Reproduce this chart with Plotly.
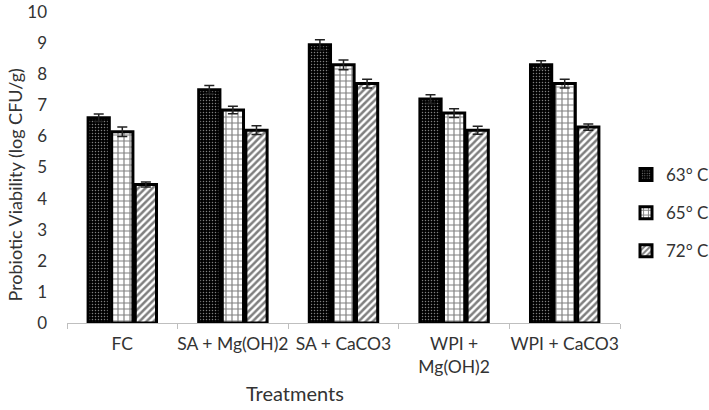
import plotly.graph_objects as go

categories = ["FC", "SA + Mg(OH)2", "SA + CaCO3", "WPI + Mg(OH)2", "WPI + CaCO3"]
tick_labels = ["FC", "SA + Mg(OH)2", "SA + CaCO3", "WPI +<br>Mg(OH)2", "WPI + CaCO3"]
series_names = ["63° C", "65° C", "72° C"]
v63 = [6.6, 7.5, 8.95, 7.2, 8.3]
v65 = [6.15, 6.85, 8.3, 6.75, 7.7]
v72 = [4.45, 6.2, 7.7, 6.2, 6.3]
e63 = [0.12, 0.14, 0.16, 0.14, 0.13]
e65 = [0.15, 0.12, 0.16, 0.14, 0.14]
e72 = [0.08, 0.14, 0.14, 0.13, 0.1]

patterns = [
    dict(shape=".", bgcolor="black", fgcolor="white", size=3, solidity=0.2),
    dict(shape="+", bgcolor="white", fgcolor="black", size=6, solidity=0.35),
    dict(shape="/", bgcolor="white", fgcolor="black", size=5, solidity=0.5),
]

FONT = "Lato, Open Sans, sans-serif"
TXT = "#333333"
L, R, T, B = 67, 89, 12, 87
W, H = 709, 410
pw = W - L - R
ph = H - T - B

fig = go.Figure()
for i, (name, vals, errs) in enumerate(zip(series_names, [v63, v65, v72], [e63, e65, e72])):
    fig.add_trace(go.Bar(
        x=categories, y=vals, name=name, legendgroup=name,
        marker=dict(color="white", line=dict(color="black", width=3), pattern=patterns[i]),
        error_y=dict(type="data", array=errs, visible=True, color="#222", thickness=1.5, width=5),
    ))

fig.update_layout(
    width=W, height=H,
    margin=dict(l=L, r=R, t=T, b=B),
    plot_bgcolor="white", paper_bgcolor="white",
    barmode="group", bargap=0.36, bargroupgap=0.1,
    font=dict(family=FONT, size=17, color=TXT),
    legend=dict(xref="container", yref="container", x=626 / W, xanchor="left",
                y=1 - 213 / H, yanchor="middle",
                font=dict(size=17), traceorder="grouped", tracegroupgap=13,
                itemwidth=30),
    showlegend=True,
    annotations=[
        dict(text="Treatments", x=(295 - L) / pw, xref="paper", y=(H - B - 393) / ph, yref="paper",
             xanchor="center", yanchor="middle", showarrow=False, font=dict(size=20, color=TXT)),
        dict(text="Probiotic Viability (log CFU/g)", x=0, xref="paper", y=0.5, yref="paper",
             xanchor="center", yanchor="middle", xshift=-53, yshift=-18, textangle=-90,
             showarrow=False, font=dict(size=18, color=TXT)),
    ],
)

fig.update_xaxes(
    tickmode="array", tickvals=categories, ticktext=tick_labels, tickangle=0,
    showline=True, linecolor="#bfbfbf", linewidth=1,
    ticks="outside", tickson="boundaries", ticklen=5, tickcolor="#bfbfbf",
    tickfont=dict(size=17.5), automargin=False, ticklabelstandoff=5,
)
fig.update_yaxes(
    range=[0, 10], dtick=1, showgrid=False, zeroline=False, showline=False,
    tickfont=dict(size=17), automargin=False, ticklabelstandoff=19,
)
fig.write_html("out.html", config={"displayModeBar": False},
               post_script="document.body.style.margin='0';")
